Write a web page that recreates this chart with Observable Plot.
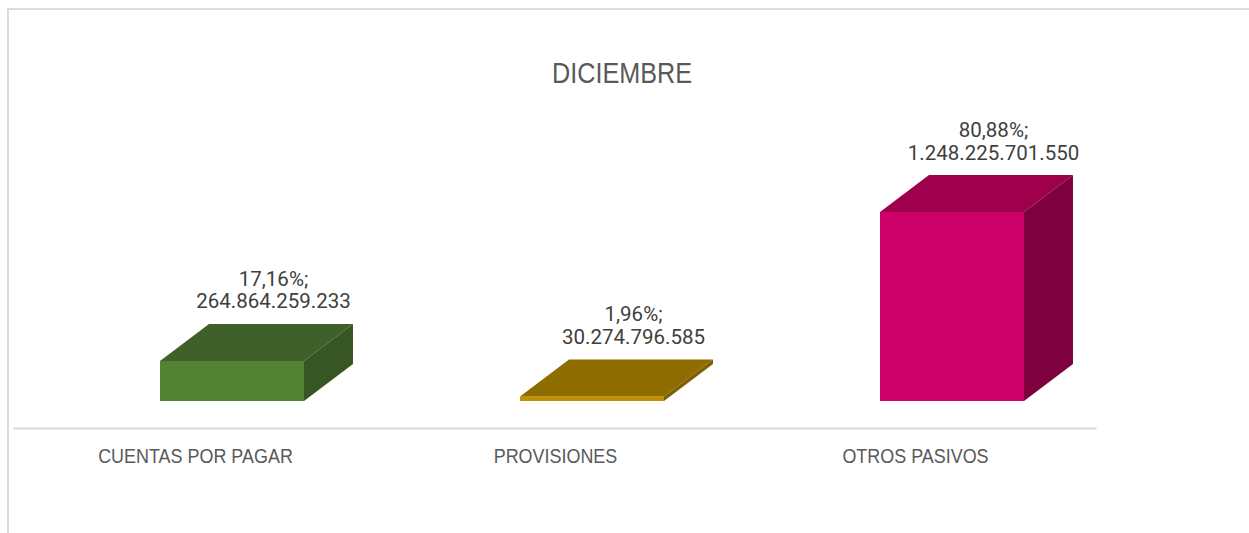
<!DOCTYPE html>
<html>
<head>
<meta charset="utf-8">
<script src="https://cdn.jsdelivr.net/npm/d3@7"></script>
<script src="https://cdn.jsdelivr.net/npm/@observablehq/plot@0.6"></script>
<style>
  html, body { margin: 0; padding: 0; background: #ffffff; }
  #wrap { position: relative; width: 1249px; height: 533px; overflow: hidden; }
  #border { position: absolute; left: 7px; top: 8px; width: 1260px; height: 540px;
            border-top: 2px solid #dcdcdc; border-left: 2px solid #dcdcdc; box-sizing: border-box; }
  #title { position: absolute; left: 0; top: 58px; width: 1244px; text-align: center;
           font-family: "Liberation Sans", Arial, sans-serif;
           font-size: 30px; line-height: 30px; color: #595959;
           transform: scaleX(0.84); transform-origin: 622px 0; }
  #chart { position: absolute; left: 0; top: 0; }
</style>
</head>
<body>
<div id="wrap">
  <div id="border"></div>
  <div id="chart"></div>
  <div id="title">DICIEMBRE</div>
</div>
<script>
const categories = ["CUENTAS POR PAGAR", "PROVISIONES", "OTROS PASIVOS"];
const amounts = [264864259233, 30274796585, 1248225701550];
const frontColors = ["#548235", "#bf9000", "#cc0066"];
const topColors = ["#3f6129", "#8f6c00", "#9e004c"];
const sideColors = ["#375623", "#7f6000", "#7f003f"];

const total = d3.sum(amounts);
const data = categories.map((c, i) => ({category: c, value: amounts[i], share: amounts[i] / total}));

const loc = d3.formatLocale({decimal: ",", thousands: ".", grouping: [3], currency: ["", ""]});
const fmtNum = loc.format(",.0f");
const fmtPct = loc.format(".2%");

const DX = 49, DY = -37;       // 3D depth offset (pixels)
const INSET_L = 145, INSET_R = 71;

function faces(index, scales, values, dims, ctx, next) {
  const g = next(index, scales, values, dims, ctx);
  const bw = scales.x.bandwidth();
  const ns = "http://www.w3.org/2000/svg";
  for (const i of index) {
    const x0 = values.x[i];
    const x1 = x0 + INSET_L, x2 = x0 + bw - INSET_R;
    const yT = Math.min(values.y1[i], values.y2[i]);
    const yB = Math.max(values.y1[i], values.y2[i]);
    const ci = categories.indexOf(data[i].category);
    const top = document.createElementNS(ns, "path");
    top.setAttribute("d", `M${x1},${yT}L${x1 + DX},${yT + DY}L${x2 + DX},${yT + DY}L${x2},${yT}Z`);
    top.setAttribute("fill", topColors[ci]);
    g.appendChild(top);
    const side = document.createElementNS(ns, "path");
    side.setAttribute("d", `M${x2},${yT}L${x2 + DX},${yT + DY}L${x2 + DX},${yB + DY}L${x2},${yB}Z`);
    side.setAttribute("fill", sideColors[ci]);
    g.appendChild(side);
  }
  return g;
}

const chart = Plot.plot({
  width: 1249,
  height: 533,
  marginLeft: 14,
  marginRight: 154,
  marginTop: 10,
  marginBottom: 105,
  style: {background: "transparent", color: "#595959",
          fontFamily: "'Liberation Sans', Arial, sans-serif"},
  x: {domain: categories, range: [14, 1095], padding: 0, axis: null},
  y: {domain: [0, d3.max(amounts)], range: [401, 212], axis: null},
  color: {domain: categories, range: frontColors},
  marks: [
    Plot.frame({anchor: "bottom", stroke: "#d9d9d9", strokeWidth: 2}),
    Plot.barY(data, {x: "category", y: "value", fill: "category",
                     insetLeft: INSET_L, insetRight: INSET_R, render: faces}),
    Plot.text(data, {x: "category", y: "value",
                     text: d => `${fmtPct(d.share)};\n${fmtNum(d.value)}`,
                     dx: 78, dy: -53, lineAnchor: "bottom", lineHeight: 1.1,
                     fontSize: 20.5, fill: "#404040", fontFamily: "Roboto"}),
    Plot.axisX({tickSize: 0, tickPadding: 20, fontSize: 21, label: null, fill: "#595959",
                ariaLabel: "x-axis"})
  ]
});
document.getElementById("chart").appendChild(chart);

// condense the category labels horizontally (narrow font look)
d3.select(chart).selectAll("g[aria-label='x-axis'] text, g[aria-label='x-axis tick label'] text").each(function() {
  const t = this.getAttribute("transform") || "";
  this.setAttribute("transform", t + " scale(0.855,1)");
});
</script>
</body>
</html>
